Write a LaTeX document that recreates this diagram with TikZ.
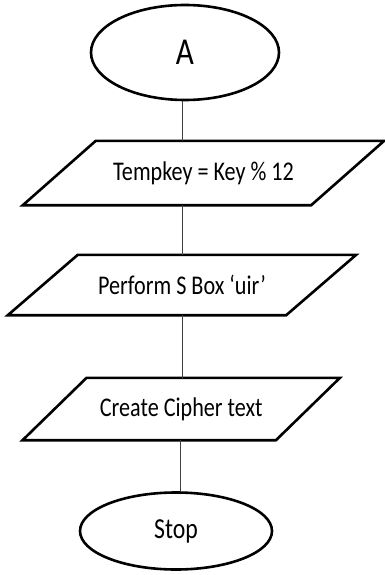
\documentclass[tikz,border=0pt]{standalone}
\usepackage{fontspec}
\setmainfont{Carlito}[FakeStretch=0.82]
\usetikzlibrary{shapes.geometric}
\tikzset{
  term/.style={ellipse, draw=black, line width=2.6pt, inner sep=0pt},
  iobox/.style={rectangle, inner sep=0pt, font=\fontsize{27}{30}\selectfont},
  conn/.style={draw=black!75, line width=0.9pt},
  para/.style={draw=black, line width=2.6pt, line join=miter}
}
\begin{document}
\begin{tikzpicture}[x=1pt,y=-1pt]
\useasboundingbox (0,0) rectangle (384,575);
\fill[white] (0,0) rectangle (384,575);

\node[term, minimum width=188pt, minimum height=95pt, font=\fontsize{38}{40}\selectfont] (a) at (185,52.5) {A};

\node[iobox, minimum width=288pt, minimum height=64pt] (t1) at (203.5,173) {Tempkey = Key \% 12};
\draw[para] ([xshift=36.5pt]t1.north west) -- ([xshift=36.5pt]t1.north east) -- ([xshift=-36.5pt]t1.south east) -- ([xshift=-36.5pt]t1.south west) -- cycle;

\node[iobox, minimum width=278pt, minimum height=60pt] (t2) at (182,285) {Perform S Box ‘uir’};
\draw[para] ([xshift=35pt]t2.north west) -- ([xshift=35pt]t2.north east) -- ([xshift=-35pt]t2.south east) -- ([xshift=-35pt]t2.south west) -- cycle;

\node[iobox, minimum width=253pt, minimum height=62pt] (t3) at (181.25,409) {Create Cipher text};
\draw[para] ([xshift=32pt]t3.north west) -- ([xshift=32pt]t3.north east) -- ([xshift=-32pt]t3.south east) -- ([xshift=-32pt]t3.south west) -- cycle;

\node[term, minimum width=192pt, minimum height=77pt, font=\fontsize{29}{31}\selectfont] (s) at (176,531) {Stop};

\draw[conn] ([xshift=-3pt]a.south) -- ([xshift=-3pt]a.south |- t1.north);
\draw[conn] ([xshift=-21.5pt]t1.south) -- ([xshift=-21.5pt]t1.south |- t2.north);
\draw[conn] (t2.south) -- (t2.south |- t3.north);
\draw[conn] ([xshift=-0.5pt]t3.south) -- ([xshift=-0.5pt]t3.south |- s.north);
\end{tikzpicture}
\end{document}
